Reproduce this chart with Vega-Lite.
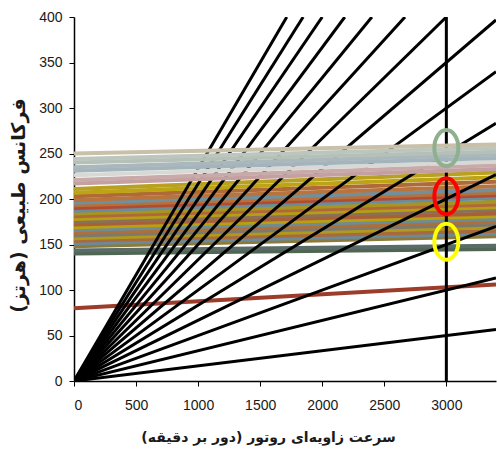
{
  "$schema": "https://vega.github.io/schema/vega-lite/v6.json",
  "width": 422,
  "height": 364,
  "autosize": {"type": "none"},
  "padding": {"left": 74, "top": 17, "right": 1, "bottom": 78},
  "background": "white",
  "config": {
    "view": {"stroke": null},
    "axis": {
      "grid": false,
      "domainColor": "#000",
      "domainWidth": 1.5,
      "tickColor": "#000",
      "tickSize": 5,
      "labelColor": "#1a1a1a",
      "labelFont": "Liberation Sans",
      "labelFontSize": 14,
      "titleFont": "DejaVu Sans",
      "titleFontWeight": "bold",
      "titleFontSize": 15,
      "titleColor": "#1a1a1a"
    }
  },
  "datasets": {
    "low": [
      {"series": "b0", "rpm": 0, "f": 80}, {"series": "b0", "rpm": 3400, "f": 106},
      {"series": "L1", "rpm": 0, "f": 140}, {"series": "L1", "rpm": 3400, "f": 145},
      {"series": "L2", "rpm": 0, "f": 143.5}, {"series": "L2", "rpm": 3400, "f": 148.5},
      {"series": "L3", "rpm": 0, "f": 148}, {"series": "L3", "rpm": 3400, "f": 159},
      {"series": "L4", "rpm": 0, "f": 151}, {"series": "L4", "rpm": 3400, "f": 162},
      {"series": "L5", "rpm": 0, "f": 154}, {"series": "L5", "rpm": 3400, "f": 165},
      {"series": "L6", "rpm": 0, "f": 157}, {"series": "L6", "rpm": 3400, "f": 169},
      {"series": "L7", "rpm": 0, "f": 160}, {"series": "L7", "rpm": 3400, "f": 172},
      {"series": "L8", "rpm": 0, "f": 163}, {"series": "L8", "rpm": 3400, "f": 175},
      {"series": "L9", "rpm": 0, "f": 166}, {"series": "L9", "rpm": 3400, "f": 178},
      {"series": "L10", "rpm": 0, "f": 169}, {"series": "L10", "rpm": 3400, "f": 181},
      {"series": "L11", "rpm": 0, "f": 172}, {"series": "L11", "rpm": 3400, "f": 184},
      {"series": "L12", "rpm": 0, "f": 175}, {"series": "L12", "rpm": 3400, "f": 188},
      {"series": "L13", "rpm": 0, "f": 178}, {"series": "L13", "rpm": 3400, "f": 191},
      {"series": "L14", "rpm": 0, "f": 181}, {"series": "L14", "rpm": 3400, "f": 194},
      {"series": "L15", "rpm": 0, "f": 184}, {"series": "L15", "rpm": 3400, "f": 197},
      {"series": "L16", "rpm": 0, "f": 187}, {"series": "L16", "rpm": 3400, "f": 201},
      {"series": "L17", "rpm": 0, "f": 190}, {"series": "L17", "rpm": 3400, "f": 204},
      {"series": "L18", "rpm": 0, "f": 193}, {"series": "L18", "rpm": 3400, "f": 207},
      {"series": "L19", "rpm": 0, "f": 196}, {"series": "L19", "rpm": 3400, "f": 210},
      {"series": "L20", "rpm": 0, "f": 199}, {"series": "L20", "rpm": 3400, "f": 214},
      {"series": "L21", "rpm": 0, "f": 203}, {"series": "L21", "rpm": 3400, "f": 219},
      {"series": "L22", "rpm": 0, "f": 207}, {"series": "L22", "rpm": 3400, "f": 224},
      {"series": "L23", "rpm": 0, "f": 211}, {"series": "L23", "rpm": 3400, "f": 229}
    ],
    "high": [
      {"series": "U1", "rpm": 0, "f": 217}, {"series": "U1", "rpm": 3400, "f": 233},
      {"series": "U2", "rpm": 0, "f": 221}, {"series": "U2", "rpm": 3400, "f": 237},
      {"series": "U3", "rpm": 0, "f": 226}, {"series": "U3", "rpm": 3400, "f": 241},
      {"series": "U4", "rpm": 0, "f": 231}, {"series": "U4", "rpm": 3400, "f": 245},
      {"series": "U5", "rpm": 0, "f": 235}, {"series": "U5", "rpm": 3400, "f": 249},
      {"series": "U6", "rpm": 0, "f": 240}, {"series": "U6", "rpm": 3400, "f": 252},
      {"series": "U7", "rpm": 0, "f": 244}, {"series": "U7", "rpm": 3400, "f": 256},
      {"series": "U8", "rpm": 0, "f": 250}, {"series": "U8", "rpm": 3400, "f": 260}
    ],
    "orders": [
      {"series": "1x", "rpm": 0, "f": 0}, {"series": "1x", "rpm": 3400, "f": 56.7},
      {"series": "2x", "rpm": 0, "f": 0}, {"series": "2x", "rpm": 3400, "f": 113.3},
      {"series": "3x", "rpm": 0, "f": 0}, {"series": "3x", "rpm": 3400, "f": 170},
      {"series": "4x", "rpm": 0, "f": 0}, {"series": "4x", "rpm": 3400, "f": 226.7},
      {"series": "5x", "rpm": 0, "f": 0}, {"series": "5x", "rpm": 3400, "f": 283.3},
      {"series": "6x", "rpm": 0, "f": 0}, {"series": "6x", "rpm": 3400, "f": 340},
      {"series": "7x", "rpm": 0, "f": 0}, {"series": "7x", "rpm": 3400, "f": 396.7},
      {"series": "8x", "rpm": 0, "f": 0}, {"series": "8x", "rpm": 3000, "f": 400},
      {"series": "9x", "rpm": 0, "f": 0}, {"series": "9x", "rpm": 2666.7, "f": 400},
      {"series": "10x", "rpm": 0, "f": 0}, {"series": "10x", "rpm": 2400, "f": 400},
      {"series": "11x", "rpm": 0, "f": 0}, {"series": "11x", "rpm": 2181.8, "f": 400},
      {"series": "12x", "rpm": 0, "f": 0}, {"series": "12x", "rpm": 2000, "f": 400},
      {"series": "13x", "rpm": 0, "f": 0}, {"series": "13x", "rpm": 1846.2, "f": 400},
      {"series": "14x", "rpm": 0, "f": 0}, {"series": "14x", "rpm": 1714.3, "f": 400},
      {"series": "op", "rpm": 3000, "f": 0}, {"series": "op", "rpm": 3000, "f": 400}
    ],
    "rings": [
      {"name": "g", "rpm": 3000, "f": 256},
      {"name": "r", "rpm": 3000, "f": 203},
      {"name": "y", "rpm": 3000, "f": 153}
    ]
  },
  "encoding": {
    "x": {
      "field": "rpm", "type": "quantitative",
      "scale": {"domain": [0, 3400], "nice": false, "zero": false},
      "axis": {
        "values": [0, 500, 1000, 1500, 2000, 2500, 3000],
        "format": "d",
        "labelPadding": 12,
        "title": "سرعت زاویه‌ای روتور (دور بر دقیقه)",
        "titleFontSize": 14,
        "titleX": 194,
        "titleY": 49,
        "titleBaseline": "top",
        "titleAlign": "center"
      }
    },
    "y": {
      "field": "f", "type": "quantitative",
      "scale": {"domain": [0, 400], "nice": false},
      "axis": {
        "values": [0, 50, 100, 150, 200, 250, 300, 350, 400],
        "labelPadding": 7,
        "title": "فرکانس طبیعی (هرتز)",
        "titleFontSize": 19,
        "titleX": -46,
        "titleY": 188,
        "titleAngle": 270,
        "titleAlign": "center",
        "titleBaseline": "bottom"
      }
    }
  },
  "layer": [
    {
      "data": {"name": "low"},
      "mark": {"type": "line", "strokeWidth": 4, "clip": true},
      "encoding": {
        "color": {
          "field": "series", "type": "nominal", "legend": null,
          "scale": {
            "domain": ["b0","L1","L2","L3","L4","L5","L6","L7","L8","L9","L10","L11","L12","L13","L14","L15","L16","L17","L18","L19","L20","L21","L22","L23","U1","U2","U3","U4","U5","U6","U7","U8"],
            "range": ["#9c3c2a","#4e6652","#5a6b68","#8c7a3a","#6b8a9a","#a86a3c","#b09a1c","#7c7a70","#b06e38","#6c8c96","#b8a010","#a8603a","#8a7058","#b49e14","#b0683a","#a89420","#6a8c9c","#b04c34","#b87038","#7090a0","#b8743c","#b06a38","#bca414","#b8a020","#c4a0a0","#c9aaaa","#d8d8d4","#a4b4bc","#aab8bc","#b4c0b8","#bcc6be","#c8c0a8"]
          }
        }
      }
    },
    {
      "data": {"name": "orders"},
      "mark": {"type": "line", "strokeWidth": 3, "color": "#000", "clip": true},
      "encoding": {"detail": {"field": "series", "type": "nominal"}}
    },
    {
      "data": {"name": "high"},
      "mark": {"type": "line", "strokeWidth": 4, "clip": true},
      "encoding": {
        "color": {"field": "series", "type": "nominal", "legend": null}
      }
    },
    {
      "data": {"name": "rings"},
      "mark": {
        "type": "point",
        "filled": false,
        "strokeWidth": 4,
        "opacity": 1,
        "size": 1296,
        "shape": "M-0.667,0A0.667,1 0 1,1 0.667,0A0.667,1 0 1,1 -0.667,0Z"
      },
      "encoding": {
        "stroke": {
          "field": "name", "type": "nominal", "legend": null,
          "scale": {"domain": ["g", "r", "y"], "range": ["#8fb08f", "#ff0000", "#ffff00"]}
        }
      }
    }
  ]
}
